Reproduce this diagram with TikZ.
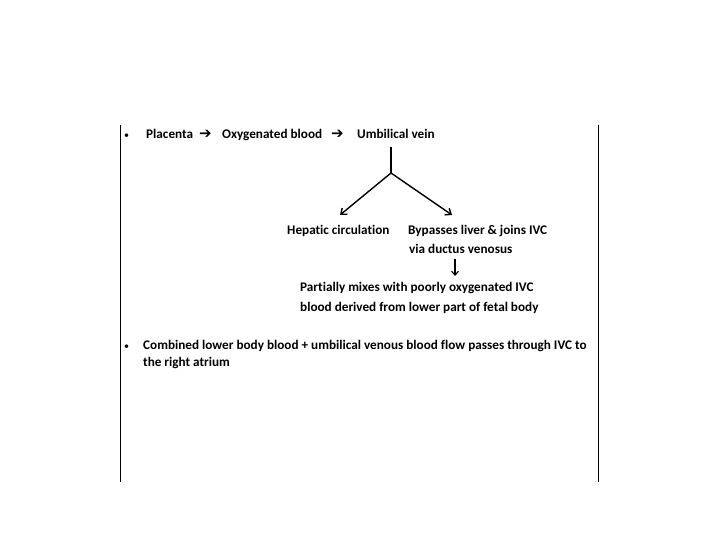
\documentclass[tikz,border=0pt]{standalone}
\usepackage{fontspec}
\setmainfont{Carlito}[Ligatures=NoCommon]
\newfontfamily\symfont{DejaVu Sans}
\usetikzlibrary{arrows.meta}

\tikzset{
  txt/.style={anchor=base west, inner sep=0pt, font=\fontsize{13.2}{16}\selectfont\bfseries},
  sym/.style={anchor=base west, inner sep=0pt, font=\fontsize{15}{16}\selectfont\symfont\bfseries},
  bul/.style={anchor=base west, inner sep=0pt, font=\fontsize{10}{12}\selectfont},
  flow/.style={line width=1.4pt, -{Straight Barb[length=5pt,width=8pt]}},
  frame/.style={line width=0.8pt}
}

\begin{document}
\begin{tikzpicture}[x=1pt, y=-1pt]

  % page size
  \useasboundingbox (0,0) rectangle (720,540);

  % Side rules
  \draw[frame] (120,125) -- (120,482);
  \draw[frame] (598,125) -- (598,482);

  % First bullet line
  \node[bul] (b1) at (124,139) {•};
  \node[txt] (placenta) at (146,139) {Placenta};
  \node[sym] (arr1) at (199,139) {➔};
  \node[txt] (oxy) at (222,139) {Oxygenated blood};
  \node[sym] (arr2) at (331,139) {➔};
  \node[txt] (vein) at (357,139) {Umbilical vein};

  % Branch
  \coordinate (top) at (391,147);
  \coordinate (split) at (391,173);
  \coordinate (tipL) at (340,215);
  \coordinate (tipR) at (452,215);
  \draw[line width=1.4pt] (top) -- (split);
  \draw[flow] (split) -- (tipL);
  \draw[flow] (split) -- (tipR);

  % Branch results
  \node[txt] (hep) at (287,235) {Hepatic circulation};
  \node[txt] (bypass) at (408,235) {Bypasses liver \& joins IVC};
  \node[txt] (ductus) at (409,254) {via ductus venosus};

  % Down arrow
  \coordinate (dtop) at (455,259);
  \coordinate (dbot) at (455,276);
  \draw[line width=1.1pt, -{Straight Barb[length=4pt,width=7pt]}] (dtop) -- (dbot);

  \node[txt] (mix1) at (300,291) {Partially mixes with poorly oxygenated IVC};
  \node[txt] (mix2) at (300,311) {blood derived from lower part of fetal body};

  % Second bullet
  \node[bul] (b2) at (124,349) {•};
  \node[txt] (comb1) at (143,349) {Combined lower body blood + umbilical venous blood flow passes through IVC to};
  \node[txt] (comb2) at (143,366) {the right atrium};

\end{tikzpicture}
\end{document}
